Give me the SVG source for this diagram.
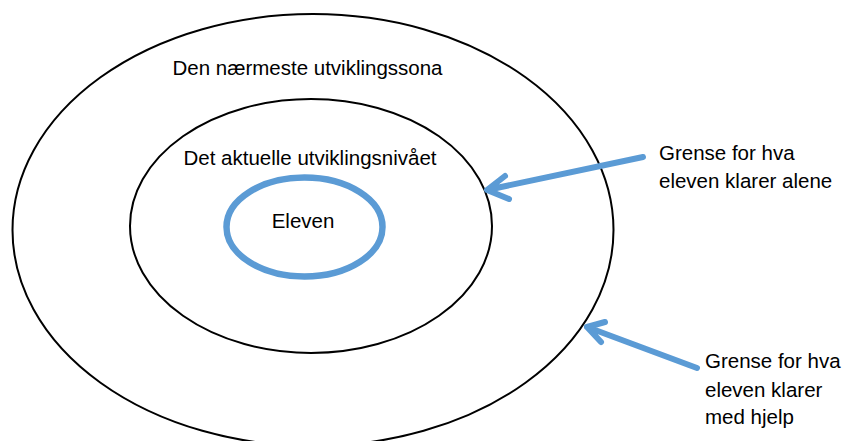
<svg xmlns="http://www.w3.org/2000/svg" width="845" height="441" viewBox="0 0 845 441">
<style>
.ring{fill:none;stroke:#000;stroke-width:2}
.blue{fill:none;stroke:#5B9BD5;stroke-width:6.5}
.arr{fill:none;stroke:#5B9BD5;stroke-width:6;stroke-linecap:round;stroke-linejoin:round}
text{font-family:"Liberation Sans",Arial,sans-serif;font-size:20.5px;fill:#000}
.c{text-anchor:middle}
</style>
<rect width="845" height="441" fill="#fff"/>
<g id="outer">
<ellipse class="ring" cx="313" cy="230" rx="300.5" ry="216"/>
<text class="c" x="307.5" y="75">Den nærmeste utviklingssona</text>
</g>
<g id="middle">
<ellipse class="ring" cx="311" cy="226" rx="181" ry="127"/>
<text class="c" x="310" y="165">Det aktuelle utviklingsnivået</text>
</g>
<g id="eleven">
<ellipse class="blue" cx="304.5" cy="227" rx="78" ry="49.5"/>
<text class="c" x="303" y="228">Eleven</text>
</g>
<g id="label1">
<text x="659" y="160">Grense for hva</text>
<text x="659" y="188">eleven klarer alene</text>
</g>
<g id="label2">
<text x="705" y="368">Grense for hva</text>
<text x="705" y="397">eleven klarer</text>
<text x="705" y="424">med hjelp</text>
</g>
<g id="connectors">
<path class="arr" d="M643,157 L487,190 M505,176 L487,190 L509,199"/>
<path class="arr" d="M697,368 L587,327 M605,322 L587,327 L601,342"/>
</g>
</svg>
